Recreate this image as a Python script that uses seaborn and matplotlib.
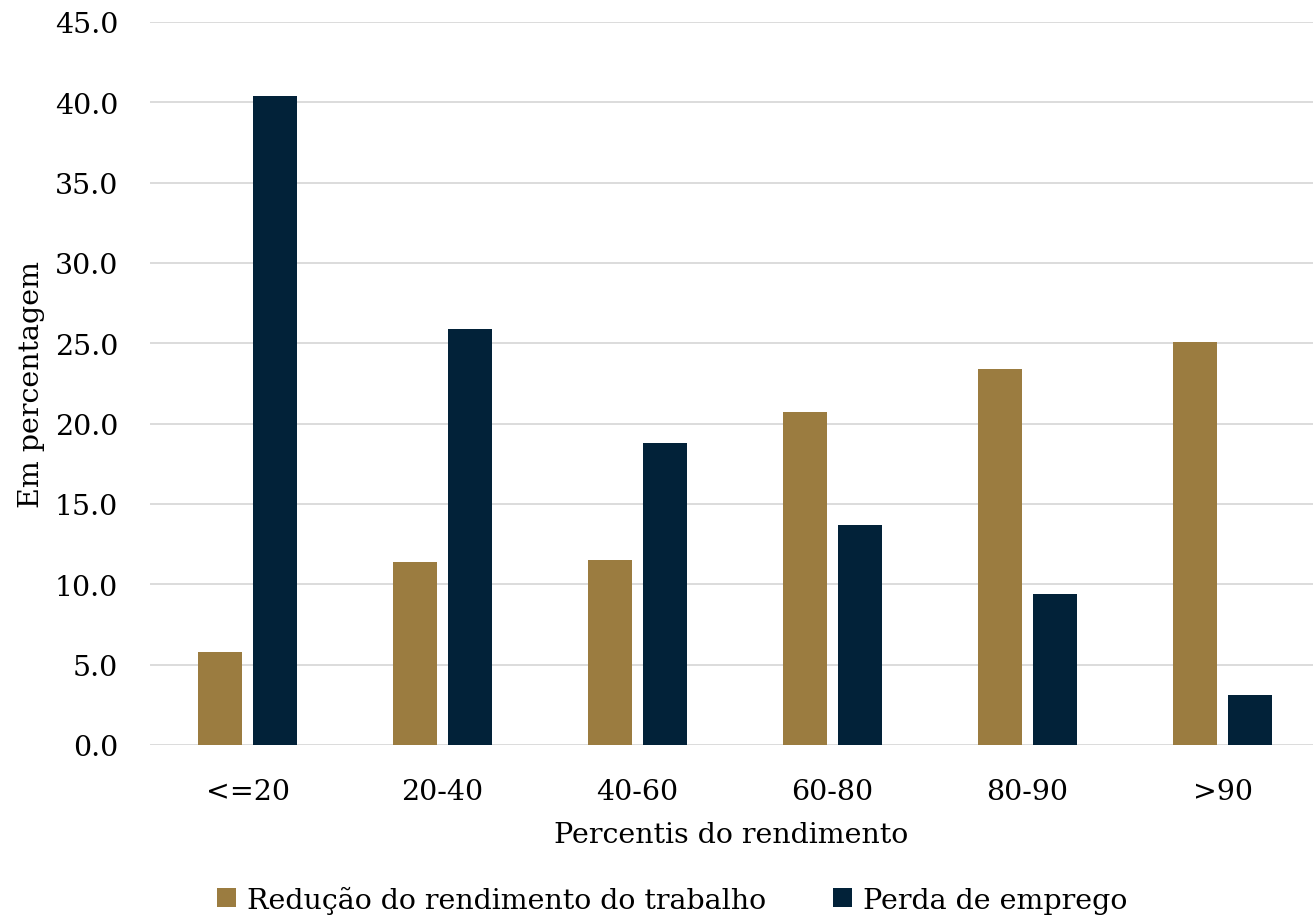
import matplotlib
matplotlib.use("Agg")
import matplotlib.pyplot as plt
import seaborn as sns
import pandas as pd

# Income percentile groups and the share affected (%) in each
categorias = ["<=20", "20-40", "40-60", "60-80", "80-90", ">90"]
reducao_rendimento = [5.8, 11.4, 11.5, 20.7, 23.4, 25.1]
perda_emprego = [40.4, 25.9, 18.8, 13.7, 9.4, 3.1]
series = ["Redução do rendimento do trabalho", "Perda de emprego"]
cores = ["#9B7C40", "#022239"]
y_ticks = [0, 5, 10, 15, 20, 25, 30, 35, 40, 45]

df = pd.DataFrame({
    "Percentil": categorias * 2,
    "Valor": reducao_rendimento + perda_emprego,
    "Serie": [series[0]] * len(categorias) + [series[1]] * len(categorias),
})

sns.set_theme(style="white")
plt.rcParams["font.family"] = ["DejaVu Serif"]
plt.rcParams["text.color"] = "black"

fs = 20.5
fig = plt.figure(figsize=(13.13, 9.2), dpi=100)
ax = fig.add_axes([150 / 1313, 174 / 920, 1163 / 1313, 723 / 920])

sns.barplot(data=df, x="Percentil", y="Valor", hue="Serie", order=categorias,
            hue_order=series, palette=cores, width=0.569, gap=0.207,
            saturation=1, linewidth=0, edgecolor="none", ax=ax, legend=True)

ax.set_xlim(-0.5, 5.464)
ax.set_ylim(0, 45)
ax.set_yticks(y_ticks)
ax.set_yticklabels([f"{v:.1f}" for v in y_ticks])
ax.yaxis.grid(True, color="#d9d9d9", linewidth=1.3)
ax.set_axisbelow(True)
for s in ax.spines.values():
    s.set_visible(False)
ax.tick_params(axis="both", length=0, labelsize=fs, colors="black")
ax.tick_params(axis="y", pad=23)
ax.tick_params(axis="x", pad=24)

ax.set_xlabel("Percentis do rendimento", fontsize=fs, color="black", labelpad=11)
ax.set_ylabel("Em percentagem", fontsize=fs, color="black", labelpad=7)

handles, labels = ax.get_legend_handles_labels()
ax.get_legend().remove()
fig.legend(handles, labels, loc="lower center", bbox_to_anchor=(0.512, -0.022),
           ncol=2, frameon=False, fontsize=fs, handlelength=0.66,
           handleheight=0.66, handletextpad=0.4, columnspacing=2.35)

fig.savefig("out.png", dpi=100)
